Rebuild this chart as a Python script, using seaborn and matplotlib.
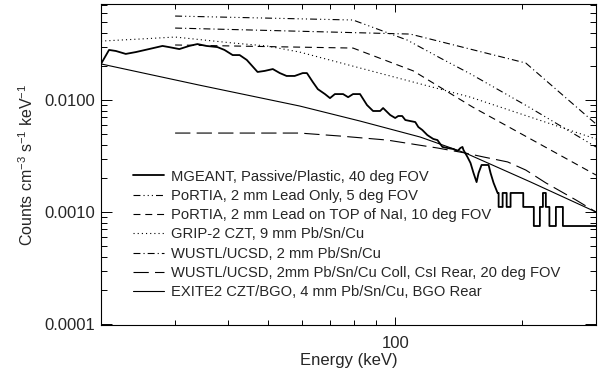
import numpy as np
import pandas as pd
import matplotlib
matplotlib.use("Agg")
import matplotlib.pyplot as plt
from matplotlib.ticker import FixedLocator, FuncFormatter, NullFormatter
import seaborn as sns

# ---------------- data ----------------
mgeant_energy = [20.0, 20.9, 21.7, 22.9, 24.2, 26.0, 28.0, 29.0, 30.7, 32.4, 33.9, 35.6,
                 37.8, 39.3, 41.1, 42.7, 44.4, 47.1, 49.0, 51.2, 53.2, 55.2, 57.7, 60.3,
                 61.7, 63.7, 65.5, 68.1, 70.0, 71.9, 75.2, 77.3, 79.4, 82.5, 85.7, 88.6,
                 92.1, 93.6, 97.3, 100.0, 101.7, 103.9, 105.7, 108.6, 111.6, 113.5, 116.0,
                 119.2, 121.2, 123.2, 126.0, 129.5, 133.1, 137.5, 140.6, 142.9, 144.5,
                 145.3, 148.5, 151.0, 153.5, 156.1, 157.8, 160.4, 166.7, 168.5, 171.3,
                 175.1, 176.1, 176.1, 180.0, 180.0, 184.0, 184.0, 188.0, 188.0, 201.5,
                 201.5, 213.5, 213.5, 220.7, 220.7, 224.4, 224.4, 228.0, 228.0, 232.5,
                 232.5, 240.9, 240.9, 250.3, 250.3, 300.0]
mgeant_counts = [0.0210, 0.0280, 0.0274, 0.0258, 0.0268, 0.0285, 0.0304, 0.0297, 0.0285,
                 0.0304, 0.0316, 0.0304, 0.0297, 0.0280, 0.0252, 0.0252, 0.0228, 0.0178,
                 0.0182, 0.0189, 0.0174, 0.0164, 0.0164, 0.0174, 0.0174, 0.0145, 0.0125,
                 0.0113, 0.0104, 0.0113, 0.0113, 0.0106, 0.0113, 0.0113, 0.00902, 0.00798,
                 0.00798, 0.00848, 0.00735, 0.00691, 0.00720, 0.00720, 0.00663, 0.00649,
                 0.00636, 0.00574, 0.00540, 0.00487, 0.00467, 0.00449, 0.00439, 0.00381,
                 0.00373, 0.00365, 0.00350, 0.00373, 0.00381, 0.00358, 0.00310, 0.00274,
                 0.00223, 0.00185, 0.00223, 0.00263, 0.00263, 0.00223, 0.00182, 0.00148,
                 0.00148, 0.00111, 0.00111, 0.00148, 0.00148, 0.00111, 0.00111, 0.00148,
                 0.00148, 0.00111, 0.00111, 0.00075, 0.00075, 0.00111, 0.00111, 0.00148,
                 0.00148, 0.00111, 0.00111, 0.00075, 0.00075, 0.00111, 0.00111, 0.00075,
                 0.00075]

portia5_energy = [30.0, 79.4, 106.8, 128.0, 151.0, 207.7, 300.0]
portia5_counts = [0.0562, 0.0518, 0.0343, 0.0237, 0.0171, 0.00866, 0.00381]

portia10_energy = [30.0, 79.4, 110.4, 152.7, 300.0]
portia10_counts = [0.0310, 0.0291, 0.0182, 0.00866, 0.00214]

grip_energy = [20.0, 24.6, 30.0, 41.1, 49.5, 59.3, 151.0, 300.0]
grip_counts = [0.0336, 0.0350, 0.0365, 0.0323, 0.0304, 0.0268, 0.0106, 0.00449]

wustl_energy = [30.0, 108.6, 204.3, 300.0]
wustl_counts = [0.0439, 0.0388, 0.0214, 0.00611]

wustl_coll_energy = [30.0, 59.3, 73.9, 95.7, 126.0, 146.9, 162.2, 185.0, 204.3, 228.0, 268.9, 300.0]
wustl_coll_counts = [0.00507, 0.00507, 0.00477, 0.00439, 0.00373, 0.00336, 0.00310, 0.00280,
                     0.00237, 0.00182, 0.00128, 0.00100]

exite2_energy = [20.0, 34.2, 59.3, 82.5, 114.7, 146.9, 210.0, 300.0]
exite2_counts = [0.0210, 0.0136, 0.00884, 0.00649, 0.00467, 0.00336, 0.00185, 0.00100]

labels = ["MGEANT, Passive/Plastic, 40 deg FOV",
          "PoRTIA, 2 mm Lead Only, 5 deg FOV",
          "PoRTIA, 2 mm Lead on TOP of NaI, 10 deg FOV",
          "GRIP-2 CZT, 9 mm Pb/Sn/Cu",
          "WUSTL/UCSD, 2 mm Pb/Sn/Cu",
          "WUSTL/UCSD, 2mm Pb/Sn/Cu Coll, CsI Rear, 20 deg FOV",
          "EXITE2 CZT/BGO, 4 mm Pb/Sn/Cu, BGO Rear"]

x_major_ticks = [100]
x_minor_ticks = [30, 40, 50, 60, 70, 80, 90, 200, 300]
y_major_ticks = [0.0001, 0.001, 0.01]

# ---------------- style ----------------
sns.set_theme(style="ticks")
plt.rcParams["font.family"] = ["Liberation Sans", "DejaVu Sans"]
plt.rcParams["lines.scale_dashes"] = False
plt.rcParams["axes.linewidth"] = 0.8

series = [
    (mgeant_energy, mgeant_counts, "-", 1.3),
    (portia5_energy, portia5_counts, (0, (5, 2.2, 0.8, 2.2, 0.8, 2.2, 0.8, 2.2)), 0.8),
    (portia10_energy, portia10_counts, (0, (5, 3.5)), 0.8),
    (grip_energy, grip_counts, (0, (0.8, 2.2)), 0.8),
    (wustl_energy, wustl_counts, (0, (5, 2.2, 0.8, 2.2)), 0.8),
    (wustl_coll_energy, wustl_coll_counts, (0, (11, 4.5)), 0.8),
    (exite2_energy, exite2_counts, "-", 0.8),
]

fig = plt.figure(figsize=(6.05, 3.76), dpi=100)
ax = fig.add_axes([101 / 605, 1 - 325 / 376, 495 / 605, 321 / 376])

for (e, c, ls, lw), lab in zip(series, labels):
    df = pd.DataFrame({"energy": e, "counts": c})
    sns.lineplot(data=df, x="energy", y="counts", sort=False, estimator=None,
                 color="black", linestyle=ls, linewidth=lw, label=lab, ax=ax)

ax.set_xscale("log")
ax.set_yscale("log")
ax.set_xlim(20, 300)
ax.set_ylim(9.8e-5, 0.072)

ax.xaxis.set_major_locator(FixedLocator(x_major_ticks))
ax.xaxis.set_minor_locator(FixedLocator(x_minor_ticks))
ax.xaxis.set_major_formatter(FuncFormatter(lambda v, p: f"{v:.0f}"))
ax.xaxis.set_minor_formatter(NullFormatter())
ax.yaxis.set_major_locator(FixedLocator(y_major_ticks))
ax.yaxis.set_major_formatter(FuncFormatter(lambda v, p: f"{v:.4f}"))
ax.yaxis.set_minor_formatter(NullFormatter())

ax.tick_params(axis="both", which="both", direction="in", top=True, right=True,
               color="black", labelsize=12, width=0.7)
ax.tick_params(axis="x", which="major", length=6, pad=8)
ax.tick_params(axis="x", which="minor", length=3.5)
ax.tick_params(axis="y", which="major", length=8, pad=4)
ax.tick_params(axis="y", which="minor", length=4.5)
for s in ax.spines.values():
    s.set_color("black")

ax.set_xlabel("Energy (keV)", fontsize=12, labelpad=1)
ax.set_ylabel(r"Counts cm$^{\mathregular{-3}}$ s$^{\mathregular{-1}}$ keV$^{\mathregular{-1}}$",
              fontsize=11.5, labelpad=6)

leg = ax.legend(loc="center left", bbox_to_anchor=(0.065, 0.282), frameon=False,
                fontsize=10.6, handlelength=2.1, handletextpad=0.45, labelspacing=0.36,
                borderpad=0, borderaxespad=0)

fig.savefig("out.png", dpi=100, facecolor="white")
